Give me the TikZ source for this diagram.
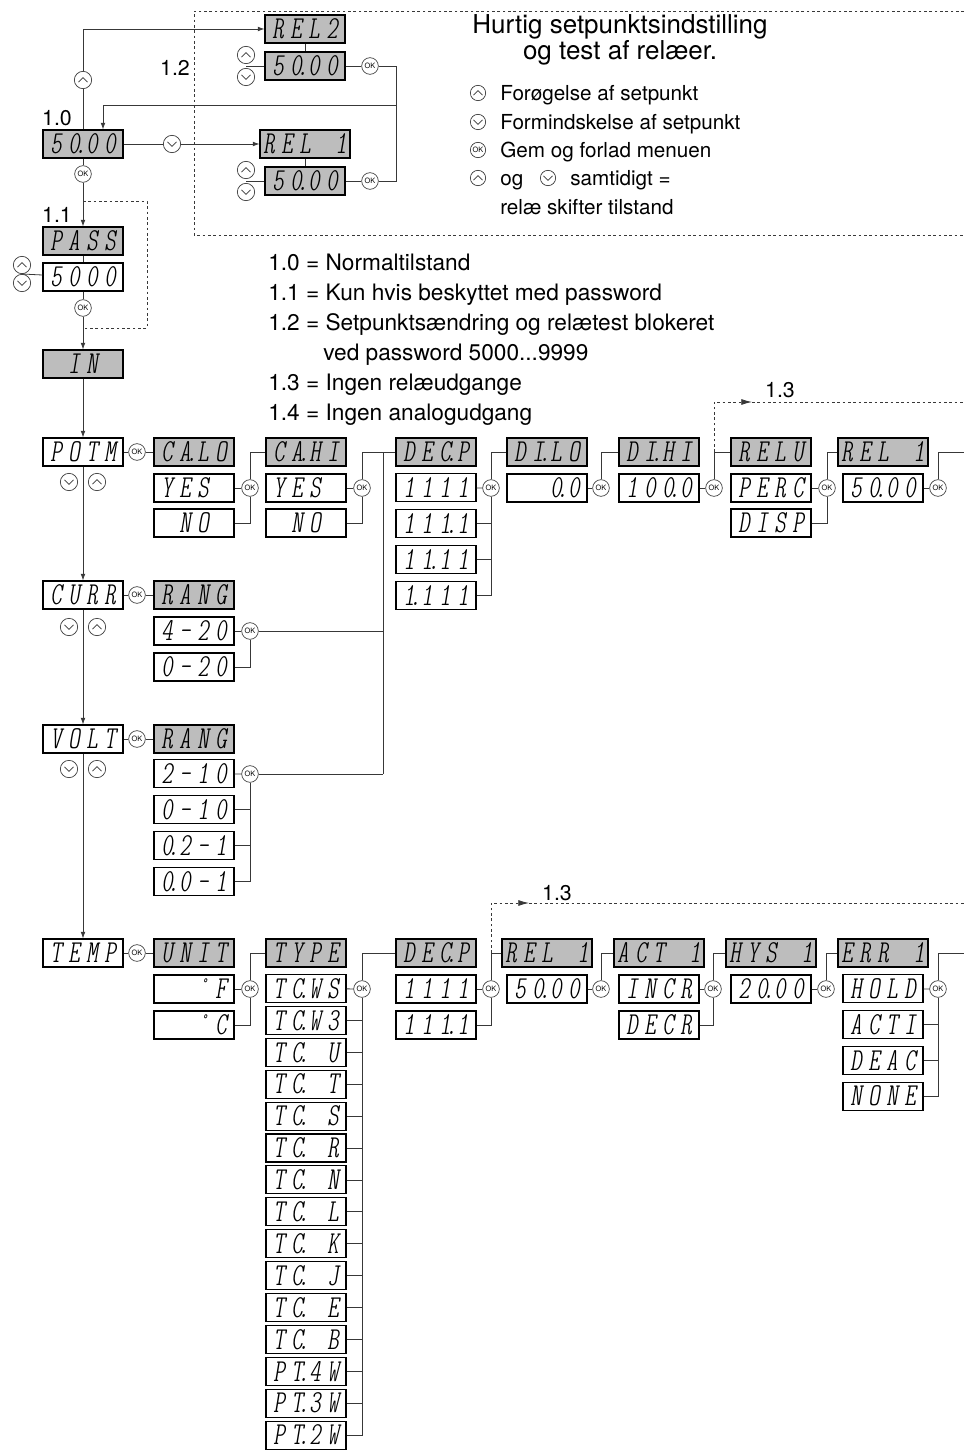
\documentclass[tikz,border=0pt]{standalone}
\usepackage{fontspec}
\setmainfont{TeX Gyre Heros}
\usepackage{tikz}
\usetikzlibrary{calc, positioning, arrows.meta}

\definecolor{lcdgray}{gray}{0.74}
\definecolor{wirecol}{gray}{0.22}

% display font and cells
\newcommand\segfont{\fontfamily{lmtt}\fontseries{lc}\fontshape{sl}\fontsize{24}{24}\selectfont}
\newcommand\segcell[1]{\makebox[13.5pt][c]{#1}}
\def\segscan#1{\ifx#1\relax\else\ifx#1.\llap{\makebox[4pt]{.}}\else\ifx#1_\segcell{}\else\segcell{#1}\fi\fi\expandafter\segscan\fi}
\newcommand\seg[1]{\expandafter\segscan#1\relax}

\begin{document}
\begin{tikzpicture}[x=0.75pt, y=-0.75pt, >={Latex[length=5pt,width=3.6pt]},
    disp/.style={draw=black, line width=0.8pt, fill=white, minimum width=60pt, minimum height=21pt, inner sep=0pt, font=\segfont},
    hdr/.style={disp, fill=lcdgray},
    okbtn/.style={circle, draw=wirecol, line width=0.5pt, fill=white, minimum size=12.5pt, inner sep=0pt, font=\fontsize{5.5}{5.5}\selectfont},
    upbtn/.style={circle, draw=wirecol, line width=0.5pt, fill=white, minimum size=13pt, inner sep=0pt,
        path picture={\draw[line width=0.6pt] ([shift={(-3.4pt,-1.6pt)}]path picture bounding box.center) -- ++(3.4pt,3.4pt) -- ++(3.4pt,-3.4pt);}},
    dnbtn/.style={circle, draw=wirecol, line width=0.5pt, fill=white, minimum size=13pt, inner sep=0pt,
        path picture={\draw[line width=0.6pt] ([shift={(-3.4pt,1.6pt)}]path picture bounding box.center) -- ++(3.4pt,-3.4pt) -- ++(3.4pt,3.4pt);}},
    legbtn/.style={minimum size=11.5pt},
    wire/.style={draw=wirecol, line width=0.6pt},
    skip/.style={wire, dash pattern=on 2pt off 2pt, >={Latex[length=8pt,width=4.5pt]}},
    deftext/.style={anchor=west, inner sep=0pt, text height=12.2pt, text depth=0pt, font=\fontsize{17}{17}\selectfont},
    legtext/.style={anchor=west, inner sep=0pt, text height=11.2pt, text depth=0pt, font=\fontsize{15.5}{15.5}\selectfont},
    lbl/.style={inner sep=0pt, text height=11.5pt, text depth=0pt, font=\fontsize{16}{16}\selectfont}]
    \useasboundingbox (0,0) rectangle (964,1452);

    % 1. Ramme for hurtig setpunktsindstilling
    \coordinate (fr1) at (964,11);
    \coordinate (fr2) at (194,11);
    \coordinate (fr3) at (194,235);
    \coordinate (fr4) at (964,235);
    \draw[skip] (fr1) -- (fr2) -- (fr3) -- (fr4);

    \node[align=center, inner sep=0pt, font=\fontsize{19.5}{19}\selectfont] (title) at (620,40) {Hurtig setpunktsindstilling\\og test af relæer.};
    \node[upbtn, legbtn] (legup) at (478,93) {};
    \node[legtext] (leg1) at (500,93) {Forøgelse af setpunkt};
    \node[dnbtn, legbtn] (legdn) at (478,122) {};
    \node[legtext] (leg2) at (500,122) {Formindskelse af setpunkt};
    \node[okbtn, legbtn] (legok) at (478,150) {OK};
    \node[legtext] (leg3) at (500,150) {Gem og forlad menuen};
    \node[upbtn, legbtn] (legup2) at (478,178) {};
    \node[legtext] (leg4a) at (500,178) {og};
    \node[dnbtn, legbtn] (legdn2) at (548,178) {};
    \node[legtext] (leg4b) at (570,178) {samtidigt =};
    \node[legtext] (leg5) at (500,207) {relæ skifter tilstand};

    % 2. Forklaringer
    \node[deftext] (def10) at (268,262) {1.0 = Normaltilstand};
    \node[deftext] (def11) at (268,292) {1.1 = Kun hvis beskyttet med password};
    \node[deftext] (def12) at (268,322) {1.2 = Setpunktsændring og relætest blokeret};
    \node[deftext] (def12b) at (323,352) {ved password 5000...9999};
    \node[deftext] (def13) at (268,382) {1.3 = Ingen relæudgange};
    \node[deftext] (def14) at (268,412) {1.4 = Ingen analogudgang};

    \node[lbl] (lbl10) at (57,118) {1.0};
    \node[lbl] (lbl11) at (57,215) {1.1};
    \node[lbl] (lbl12) at (175,68) {1.2};
    \node[lbl] (lbl13a) at (780,390) {1.3};
    \node[lbl] (lbl13b) at (557,893) {1.3};

    % 3. Normaltilstand og relæer
    \node[hdr] (main) at (83,144) {\seg{50.00}};
    \node[upbtn] (mainup) at (83,80) {};
    \node[dnbtn] (maindn) at (172,144) {};
    \node[okbtn] (mainok) at (83,174) {OK};

    \node[hdr] (rel2) at (305,29) {\seg{REL2}};
    \node[hdr] (rel2sp) at (305,66) {\seg{50.00}};
    \node[upbtn] (rel2up) at (246,55) {};
    \node[dnbtn] (rel2dn) at (246,77) {};
    \coordinate (rel2btn) at (246,66);
    \node[okbtn] (rel2ok) at (370,66) {OK};

    \node[hdr] (rel1) at (305,144) {\seg{REL_1}};
    \node[hdr] (rel1sp) at (305,181) {\seg{50.00}};
    \node[upbtn] (rel1up) at (246,170) {};
    \node[dnbtn] (rel1dn) at (246,192) {};
    \coordinate (rel1btn) at (246,181);
    \node[okbtn] (rel1ok) at (370,181) {OK};

    \coordinate (ret) at (396,105);
    \coordinate (retin) at (103,105);

    \draw[wire] (main) -- (mainup);
    \draw[wire,->] (mainup) |- (rel2);
    \draw[wire] (main) -- (maindn);
    \draw[wire,->] (maindn) -- (rel1);
    \draw[wire] (rel2) -- (rel2sp);
    \draw[wire] (rel1) -- (rel1sp);
    \draw[wire] (rel2btn) -- (rel2sp);
    \draw[wire] (rel1btn) -- (rel1sp);
    \draw[wire] (rel2sp) -- (rel2ok);
    \draw[wire] (rel1sp) -- (rel1ok);
    \draw[wire] (rel2ok) -| (ret);
    \draw[wire] (rel1ok) -| (ret);
    \draw[wire,->] (ret) -- (retin) -- (retin |- main.north);

    % 4. Password og IN
    \node[hdr] (pass) at (83,241) {\seg{PASS}};
    \node[disp] (passval) at (83,277) {\seg{5000}};
    \node[upbtn] (passup) at (22,265) {};
    \node[dnbtn] (passdn) at (22,283) {};
    \coordinate (passbtn) at (22,274);
    \node[okbtn] (passok) at (83,308) {OK};
    \node[hdr] (in) at (83,364) {\seg{_IN_}};

    \coordinate (byp1) at (83,201);
    \coordinate (byp2) at (147,201);
    \coordinate (byp3) at (147,328);
    \coordinate (byp4) at (83,328);
    \draw[skip] (byp1) -- (byp2) -- (byp3) -- (byp4);

    \draw[wire] (main) -- (mainok);
    \draw[wire,->] (mainok) -- (pass);
    \draw[wire] (pass) -- (passval);
    \draw[wire] (passbtn) -- (passval);
    \draw[wire] (passval) -- (passok);
    \draw[wire,->] (passok) -- (in);

    % 5. Indgange
    \node[disp] (potm) at (83,452) {\seg{POTM}};
    \node[disp] (curr) at (83,595) {\seg{CURR}};
    \node[disp] (volt) at (83,739) {\seg{VOLT}};
    \node[disp] (temp) at (83,953) {\seg{TEMP}};
    \foreach \n/\y in {potm/482, curr/627, volt/769} {
        \node[dnbtn] (\n dn) at (69,\y) {};
        \node[upbtn] (\n up) at (97,\y) {};
    }
    \draw[wire,->] (in) -- (potm);
    \draw[wire,->] (potm) -- (curr);
    \draw[wire,->] (curr) -- (volt);
    \draw[wire,->] (volt) -- (temp);

    % 6. POTM-menu
    \node[okbtn] (potmok) at (137,452) {OK};
    \node[hdr] (calo) at (194,452) {\seg{CA.LO}};
    \node[disp] (caloyes) at (194,488) {\seg{YES_}};
    \node[disp] (calono) at (194,523) {\seg{_NO_}};
    \node[okbtn] (calook) at (250,488) {OK};
    \node[hdr] (cahi) at (306,452) {\seg{CA.HI}};
    \node[disp] (cahiyes) at (306,488) {\seg{YES_}};
    \node[disp] (cahino) at (306,523) {\seg{_NO_}};
    \node[okbtn] (cahiok) at (362,488) {OK};
    \draw[wire] (potm) -- (potmok) -- (calo);
    \draw[wire] (caloyes) -- (calook);
    \draw[wire] (calono) -| (calook);
    \draw[wire] (calook) |- (cahi);
    \draw[wire] (cahiyes) -- (cahiok);
    \draw[wire] (cahino) -| (cahiok);

    % 7. CURR og VOLT
    \node[okbtn] (currok) at (137,595) {OK};
    \node[hdr] (currrang) at (194,595) {\seg{RANG}};
    \node[disp] (cra) at (194,631) {\seg{4-20}};
    \node[disp] (crb) at (194,667) {\seg{0-20}};
    \node[okbtn] (crok) at (250,631) {OK};
    \node[okbtn] (voltok) at (137,739) {OK};
    \node[hdr] (voltrang) at (194,739) {\seg{RANG}};
    \foreach \lbl [count=\i] in {2-10, 0-10, 0.2-1, 0.0-1}
        \node[disp] (vr\i) at (194,{738+35.9*\i}) {\seg{\lbl}};
    \node[okbtn] (vrok) at (250,774) {OK};
    \coordinate (bustop) at (383,452);
    \coordinate (busbot) at (383,774);

    \draw[wire] (curr) -- (currok) -- (currrang);
    \draw[wire] (cra) -- (crok);
    \draw[wire] (crb) -| (crok);
    \draw[wire] (crok) -- (crok -| bustop);
    \draw[wire] (volt) -- (voltok) -- (voltrang);
    \draw[wire] (vr1) -- (vrok);
    \foreach \i in {2,3,4} \draw[wire] (vr\i) -| (vrok);
    \draw[wire] (vrok) -- (busbot);
    \draw[wire] (bustop) -- (busbot);

    % 8. Decimalpunkt, display og relae (analog)
    \node[hdr] (decp) at (436,452) {\seg{DEC.P}};
    \foreach \lbl [count=\i] in {1111, 111.1, 11.11, 1.111}
        \node[disp] (dp\i) at (436,{452+35.8*\i}) {\seg{\lbl}};
    \node[okbtn] (dpok) at (491,488) {OK};
    \node[hdr] (dilo) at (547,452) {\seg{DI.LO}};
    \node[disp] (dilova) at (547,488) {\seg{__0.0}};
    \node[okbtn] (dilook) at (601,488) {OK};
    \node[hdr] (dihi) at (659,452) {\seg{DI.HI}};
    \node[disp] (dihiva) at (659,488) {\seg{100.0}};
    \node[okbtn] (dihiok) at (714,488) {OK};
    \node[hdr] (relu) at (771,452) {\seg{RELU}};
    \node[disp] (perc) at (771,488) {\seg{PERC}};
    \node[disp] (reludisp) at (771,523) {\seg{DISP}};
    \node[okbtn] (reluok) at (827,488) {OK};
    \node[hdr] (relone) at (883,452) {\seg{REL_1}};
    \node[disp] (reloneva) at (883,488) {\seg{50.00}};
    \node[okbtn] (reloneok) at (938,488) {OK};
    \coordinate (potmend) at (964,452);
    \coordinate (skip1a) at (714,402);
    \coordinate (skip1b) at (752,402);
    \coordinate (skip1c) at (964,402);

    \draw[wire] (cahiok) |- (decp);
    \draw[wire] (dp1) -- (dpok);
    \foreach \i in {2,3,4} \draw[wire] (dp\i) -| (dpok);
    \draw[wire] (dpok) |- (dilo);
    \draw[wire] (dilova) -- (dilook);
    \draw[wire] (dilook) |- (dihi);
    \draw[wire] (dihiva) -- (dihiok);
    \draw[wire] (dihiok) |- (relu);
    \draw[skip,->] (dihiok |- relu) -- (skip1a) -- (skip1b);
    \draw[skip] (skip1b) -- (skip1c);
    \draw[wire] (perc) -- (reluok);
    \draw[wire] (reludisp) -| (reluok);
    \draw[wire] (reluok) |- (relone);
    \draw[wire] (reloneva) -- (reloneok);
    \draw[wire] (reloneok) |- (potmend);

    % 9. TEMP-menu
    \node[okbtn] (tempok) at (137,953) {OK};
    \node[hdr] (unit) at (194,953) {\seg{UNIT}};
    \node[disp] (degf) at (194,989) {\seg{__°F}};
    \node[disp] (degc) at (194,1025) {\seg{__°C}};
    \node[okbtn] (unitok) at (250,989) {OK};
    \node[hdr] (type) at (306,953) {\seg{TYPE}};
    \foreach \lbl [count=\i from 0] in {TC.WS, TC.W3, TC._U, TC._T, TC._S, TC._R, TC._N, TC._L, TC._K, TC._J, TC._E, TC._B, PT.4W, PT.3W, PT.2W}
        \node[disp] (tc\i) at (306,{988.5+31.9*\i}) {\seg{\lbl}};
    \node[okbtn] (typeok) at (362,989) {OK};

    \draw[wire] (temp) -- (tempok) -- (unit);
    \draw[wire] (degf) -- (unitok);
    \draw[wire] (degc) -| (unitok);
    \draw[wire] (unitok) |- (type);
    \draw[wire] (tc0) -- (typeok);
    \foreach \i in {1,...,14} \draw[wire] (tc\i) -| (typeok);

    % 10. Decimalpunkt og relae (temperatur)
    \node[hdr] (tdecp) at (436,953) {\seg{DEC.P}};
    \node[disp] (tdp1) at (436,989) {\seg{1111}};
    \node[disp] (tdp2) at (436,1025) {\seg{111.1}};
    \node[okbtn] (tdpok) at (491,989) {OK};
    \node[hdr] (trel) at (547,953) {\seg{REL_1}};
    \node[disp] (trelva) at (547,989) {\seg{50.00}};
    \node[okbtn] (trelok) at (601,989) {OK};
    \node[hdr] (act) at (659,953) {\seg{ACT_1}};
    \node[disp] (incr) at (659,989) {\seg{INCR}};
    \node[disp] (decr) at (659,1025) {\seg{DECR}};
    \node[okbtn] (actok) at (713,989) {OK};
    \node[hdr] (hys) at (771,953) {\seg{HYS_1}};
    \node[disp] (hysva) at (771,989) {\seg{20.00}};
    \node[okbtn] (hysok) at (826,989) {OK};
    \node[hdr] (err) at (883,953) {\seg{ERR_1}};
    \foreach \lbl [count=\i] in {HOLD, ACTI, DEAC, NONE}
        \node[disp] (er\i) at (883,{953+35.8*\i}) {\seg{\lbl}};
    \node[okbtn] (errok) at (938,989) {OK};
    \coordinate (tempend) at (964,953);
    \coordinate (skip2a) at (491,903);
    \coordinate (skip2b) at (529,903);
    \coordinate (skip2c) at (964,903);

    \draw[wire] (typeok) |- (tdecp);
    \draw[wire] (tdp1) -- (tdpok);
    \draw[wire] (tdp2) -| (tdpok);
    \draw[wire] (tdpok) |- (trel);
    \draw[skip,->] (tdpok |- trel) -- (skip2a) -- (skip2b);
    \draw[skip] (skip2b) -- (skip2c);
    \draw[wire] (trelva) -- (trelok);
    \draw[wire] (trelok) |- (act);
    \draw[wire] (incr) -- (actok);
    \draw[wire] (decr) -| (actok);
    \draw[wire] (actok) |- (hys);
    \draw[wire] (hysva) -- (hysok);
    \draw[wire] (hysok) |- (err);
    \draw[wire] (er1) -- (errok);
    \foreach \i in {2,3,4} \draw[wire] (er\i) -| (errok);
    \draw[wire] (errok) |- (tempend);
\end{tikzpicture}
\end{document}
